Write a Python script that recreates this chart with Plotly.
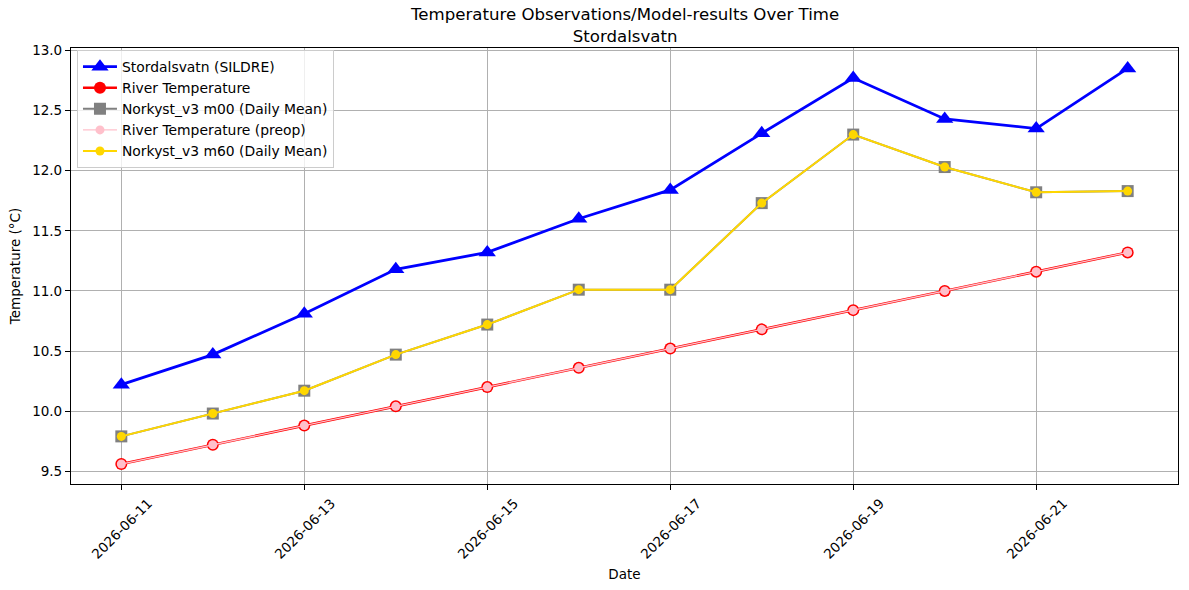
import plotly.graph_objects as go

dates = ["2026-06-11", "2026-06-12", "2026-06-13", "2026-06-14", "2026-06-15", "2026-06-16",
         "2026-06-17", "2026-06-18", "2026-06-19", "2026-06-20", "2026-06-21", "2026-06-22"]
sildre = [10.22, 10.47, 10.81, 11.18, 11.32, 11.60, 11.84, 12.31, 12.77, 12.43, 12.35, 12.85]
river_temp = [9.56, 9.72, 9.88, 10.04, 10.20, 10.36, 10.52, 10.68, 10.84, 11.00, 11.16, 11.32]
norkyst_m00 = [9.79, 9.98, 10.17, 10.47, 10.72, 11.01, 11.01, 11.73, 12.30, 12.03, 11.82, 11.83]
river_preop = [9.56, 9.72, 9.88, 10.04, 10.20, 10.36, 10.52, 10.68, 10.84, 11.00, 11.16, 11.32]
norkyst_m60 = [9.79, 9.98, 10.17, 10.47, 10.72, 11.01, 11.01, 11.73, 12.30, 12.03, 11.82, 11.83]
tick_dates = ["2026-06-11", "2026-06-13", "2026-06-15", "2026-06-17", "2026-06-19", "2026-06-21"]
title_lines = ["Temperature Observations/Model-results Over Time", "Stordalsvatn"]

FONT = "DejaVu Sans"

fig = go.Figure()
fig.add_trace(go.Scatter(x=dates, y=sildre, mode="lines+markers", name="Stordalsvatn (SILDRE)",
                         line=dict(color="blue", width=2.8),
                         marker=dict(symbol="triangle-up", size=15, color="blue")))
fig.add_trace(go.Scatter(x=dates, y=river_temp, mode="lines+markers", name="River Temperature",
                         line=dict(color="red", width=2.6),
                         marker=dict(symbol="circle", size=12, color="red")))
fig.add_trace(go.Scatter(x=dates, y=norkyst_m00, mode="lines+markers", name="Norkyst_v3 m00 (Daily Mean)",
                         line=dict(color="gray", width=2),
                         marker=dict(symbol="square", size=12, color="gray")))
fig.add_trace(go.Scatter(x=dates, y=river_preop, mode="lines+markers", name="River Temperature (preop)",
                         line=dict(color="pink", width=1.3),
                         marker=dict(symbol="circle", size=9, color="pink")))
fig.add_trace(go.Scatter(x=dates, y=norkyst_m60, mode="lines+markers", name="Norkyst_v3 m60 (Daily Mean)",
                         line=dict(color="gold", width=2),
                         marker=dict(symbol="circle", size=9, color="gold")))

plot_top, plot_bottom = 48, 484
def paper_y(px):
    return (plot_bottom - px) / (plot_bottom - plot_top)

annotations = [
    dict(text="<br>".join(title_lines), x=0.5, xref="paper", xanchor="center",
         y=paper_y(25), yref="paper", yanchor="middle", showarrow=False, borderpad=0,
         font=dict(family=FONT, size=16.6, color="black")),
]

fig.update_layout(
    width=1189, height=590,
    margin=dict(l=71, r=11, t=48, b=106),
    paper_bgcolor="white", plot_bgcolor="white",
    font=dict(family=FONT, size=13.5, color="black"),
    annotations=annotations,
    showlegend=True,
    legend=dict(x=0.0054, y=0.995, xanchor="left", yanchor="top",
                bgcolor="rgba(255,255,255,0.8)", bordercolor="#cccccc", borderwidth=1,
                font=dict(family=FONT, size=13.9, color="black"),
                tracegroupgap=0, itemsizing="trace", itemwidth=34),
)

fig.update_xaxes(
    type="date",
    range=["2026-06-10 10:48", "2026-06-22 13:12"],
    tickvals=tick_dates, ticktext=tick_dates,
    tickangle=-45, ticklabelshift=27,
    showgrid=True, gridcolor="#b0b0b0", gridwidth=1,
    showline=True, linecolor="black", linewidth=1.2, mirror=True,
    ticks="outside", ticklen=5, tickcolor="black",
    title=dict(text="Date", font=dict(family=FONT, size=13.5), standoff=8),
    zeroline=False,
)
fig.update_yaxes(
    range=[9.394, 13.02],
    tickvals=[9.5, 10.0, 10.5, 11.0, 11.5, 12.0, 12.5, 13.0],
    tickformat=".1f",
    showgrid=True, gridcolor="#b0b0b0", gridwidth=1,
    showline=True, linecolor="black", linewidth=1.2, mirror=True,
    ticks="outside", ticklen=5, tickcolor="black",
    title=dict(text="Temperature (°C)", font=dict(family=FONT, size=13.5), standoff=8),
    zeroline=False,
)

fig.write_html("out.html")
